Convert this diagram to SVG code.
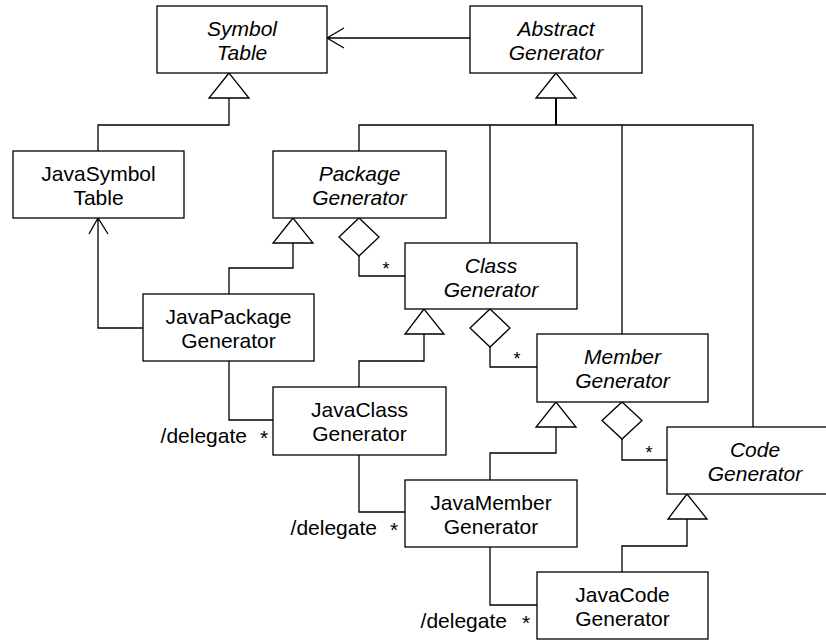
<svg xmlns="http://www.w3.org/2000/svg" width="826" height="641" viewBox="0 0 826 641">
<style>
rect.box{fill:#fff;stroke:#000;stroke-width:1.3}
text{font-family:"Liberation Sans",Arial,sans-serif;font-size:21px;fill:#000}
text.c{text-anchor:middle}
text.i{font-style:italic}
.ln{fill:none;stroke:#000;stroke-width:1.3}
.tri{fill:#fff;stroke:#000;stroke-width:1.3}
</style>
<rect width="826" height="641" fill="#fff"/>
<g id="connectors">
  <!-- Abstract -> Symbol Table association -->
  <path class="ln" d="M470,38 H327 M344,28 L327,38 L344,48"/>
  <!-- JavaSymbol -> Symbol Table generalization -->
  <path class="ln" d="M98,151 V125 H229 V98"/>
  <polygon class="tri" points="229,73 209,98 249,98"/>
  <!-- Abstract generalization tree -->
  <path class="ln" d="M556,98 V125 M359,151 V125 H753 V427 M490,125 V243 M622,125 V334"/>
  <path class="ln" d="M556,98 V125" style="stroke-width:2"/>
  <polygon class="tri" points="556,73 536,98 576,98"/>
  <!-- Package aggregation to Class -->
  <path class="ln" d="M359,256 V276 H405"/>
  <polygon class="tri" points="359,218 379,237 359,256 339,237"/>
  <text x="386" y="275" class="c" style="font-size:18px">*</text>
  <!-- JavaPackage -> Package generalization -->
  <path class="ln" d="M229,294 V268 H293 V243"/>
  <polygon class="tri" points="293,218 273,243 313,243"/>
  <!-- JavaPackage -> JavaSymbol association -->
  <path class="ln" d="M143,328 H98 V218 M89,234 L98,218 L108,234"/>
  <!-- Class aggregation to Member -->
  <path class="ln" d="M490,347 V367 H537"/>
  <polygon class="tri" points="490,309 510,328 490,347 470,328"/>
  <text x="517" y="365" class="c" style="font-size:18px">*</text>
  <!-- JavaClass -> Class generalization -->
  <path class="ln" d="M359,387 V361 H424 V334"/>
  <polygon class="tri" points="424,309 405,334 444,334"/>
  <!-- JavaPackage -> JavaClass delegate -->
  <path class="ln" d="M229,361 V420 H273"/>
  <text x="247" y="443" style="text-anchor:end">/delegate</text>
  <text x="264" y="445" class="c">*</text>
  <!-- Member aggregation to Code -->
  <path class="ln" d="M622,439 V460 H667"/>
  <polygon class="tri" points="622,402 642,420.5 622,439 602,420.5"/>
  <text x="649" y="459" class="c" style="font-size:18px">*</text>
  <!-- JavaMember -> Member generalization -->
  <path class="ln" d="M490,480 V453 H556 V427"/>
  <polygon class="tri" points="556,402 536,427 576,427"/>
  <!-- JavaClass -> JavaMember delegate -->
  <path class="ln" d="M359,455 V512 H405"/>
  <text x="377" y="535" style="text-anchor:end">/delegate</text>
  <text x="394" y="537" class="c">*</text>
  <!-- JavaCode -> Code generalization -->
  <path class="ln" d="M622,572 V546 H687 V519"/>
  <polygon class="tri" points="687,494 668,519 707,519"/>
  <!-- JavaMember -> JavaCode delegate -->
  <path class="ln" d="M490,547 V605 H537"/>
  <text x="507" y="628" style="text-anchor:end">/delegate</text>
  <text x="526" y="630" class="c">*</text>
</g>
<g id="symbolTable"><rect class="box" x="157" y="6" width="170" height="67"/><text class="c i" x="242" y="36">Symbol</text><text class="c i" x="242" y="60">Table</text></g>
<g id="abstractGenerator"><rect class="box" x="470" y="6" width="172" height="67"/><text class="c i" x="556" y="36">Abstract</text><text class="c i" x="556" y="60">Generator</text></g>
<g id="javaSymbolTable"><rect class="box" x="13" y="151" width="171" height="67"/><text class="c" x="98.5" y="181">JavaSymbol</text><text class="c" x="98.5" y="205">Table</text></g>
<g id="packageGenerator"><rect class="box" x="273" y="151" width="173" height="67"/><text class="c i" x="359.5" y="181">Package</text><text class="c i" x="359.5" y="205">Generator</text></g>
<g id="classGenerator"><rect class="box" x="405" y="243" width="172" height="66"/><text class="c i" x="491" y="273">Class</text><text class="c i" x="491" y="297">Generator</text></g>
<g id="javaPackageGenerator"><rect class="box" x="143" y="294" width="171" height="67"/><text class="c" x="228.5" y="324">JavaPackage</text><text class="c" x="228.5" y="348">Generator</text></g>
<g id="memberGenerator"><rect class="box" x="537" y="334" width="171" height="68"/><text class="c i" x="622.5" y="364">Member</text><text class="c i" x="622.5" y="388">Generator</text></g>
<g id="javaClassGenerator"><rect class="box" x="273" y="387" width="173" height="68"/><text class="c" x="359.5" y="417">JavaClass</text><text class="c" x="359.5" y="441">Generator</text></g>
<g id="codeGenerator"><rect class="box" x="667" y="427" width="172" height="67"/><text class="c i" x="755" y="457">Code</text><text class="c i" x="755" y="481">Generator</text></g>
<g id="javaMemberGenerator"><rect class="box" x="405" y="480" width="172" height="67"/><text class="c" x="491" y="510">JavaMember</text><text class="c" x="491" y="534">Generator</text></g>
<g id="javaCodeGenerator"><rect class="box" x="537" y="572" width="171" height="67"/><text class="c" x="622.5" y="602">JavaCode</text><text class="c" x="622.5" y="626">Generator</text></g>
</svg>
